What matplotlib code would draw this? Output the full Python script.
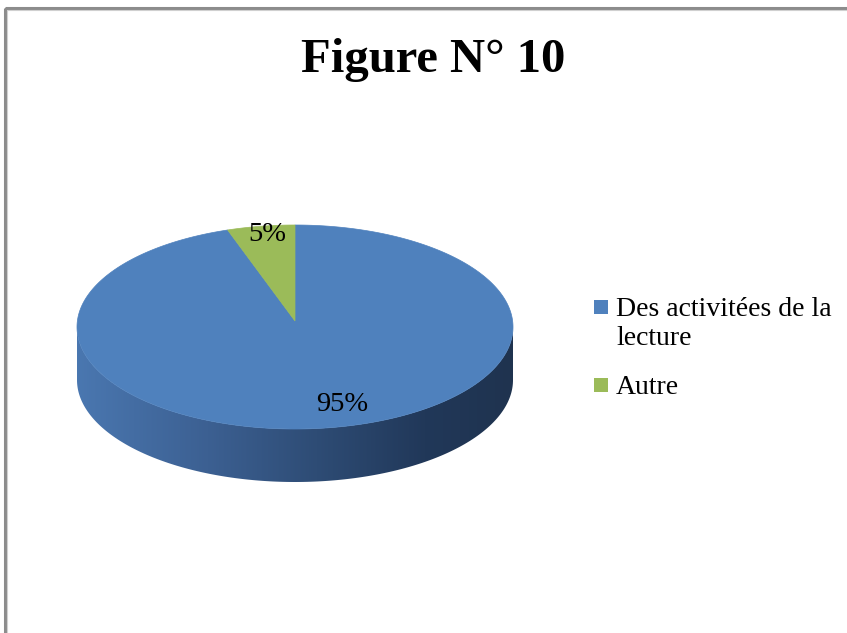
import numpy as np
import matplotlib
matplotlib.use("Agg")
import matplotlib.pyplot as plt
from matplotlib.patches import Polygon, Rectangle
from matplotlib.colors import LinearSegmentedColormap

# ---- data ----
title = "Figure N° 10"
categories = ["Des activitées de la\nlecture", "Autre"]
values = [95, 5]
pct_labels = ["95%", "5%"]
colors = ["#4f81bd", "#9bbb59"]

# ---- layout (pixel coordinates) ----
W, H = 847, 633
cx, cy, rx, ry, depth = 295, 327, 218, 102, 53
serif = ["Liberation Serif", "DejaVu Serif"]

fig = plt.figure(figsize=(W / 100, H / 100), dpi=100)
ax = fig.add_axes([0, 0, 1, 1])
ax.set_xlim(0, W)
ax.set_ylim(H, 0)
ax.axis("off")

# outer chart frame
ax.add_patch(Rectangle((5, 8), W + 20, H + 20, fill=False, ec="#8c8c8c", lw=2.2))
ax.add_patch(Rectangle((6.5, 9.5), W + 20, H + 20, fill=False, ec="#d0d0d0", lw=0.8))


def ell(t_deg, dy=0.0):
    t = np.radians(t_deg)
    return np.column_stack([cx + rx * np.cos(t), cy - ry * np.sin(t) + dy])


# side wall (front half) with horizontal gradient
t = np.linspace(180, 360, 200)
side = np.vstack([ell(t), ell(t[::-1], depth)])
side_patch = Polygon(side, closed=True, fc="none", ec="none")
ax.add_patch(side_patch)
cmap = LinearSegmentedColormap.from_list(
    "side", [(0.0, "#4a77b0"), (0.3, "#3c6092"), (0.55, "#2e4c75"),
             (0.8, "#213859"), (1.0, "#1f334f")])
grad = np.linspace(0, 1, 256)[None, :]
im = ax.imshow(grad, cmap=cmap, aspect="auto",
               extent=(cx - rx, cx + rx, cy + ry + depth + 5, cy - 5),
               interpolation="bilinear")
im.set_clip_path(side_patch)
ax.set_xlim(0, W)
ax.set_ylim(H, 0)

# top face slices: start at 12 o'clock, clockwise
total = sum(values)
start = 90.0
mids = []
for v, c in zip(values, colors):
    sweep = 360.0 * v / total
    tt = np.linspace(start, start - sweep, max(int(sweep * 2), 10))
    pts = np.vstack([[cx, cy - 6], ell(tt)])
    ax.add_patch(Polygon(pts, closed=True, fc=c, ec=c, lw=0.5))
    mids.append(start - sweep / 2)
    start -= sweep

# percentage labels
label_frac = [0.74, 0.93]
label_dx = [22, 4]
label_dy = [3, 1]
for lab, m, f, dx, dy in zip(pct_labels, mids, label_frac, label_dx, label_dy):
    x = cx + rx * f * np.cos(np.radians(m)) + dx
    y = cy - ry * f * np.sin(np.radians(m)) + dy
    ax.text(x, y, lab, ha="center", va="center", fontsize=20.5,
            family=serif, color="black")

# title
ax.text(433, 60, title, ha="center", va="center", fontsize=35,
        fontweight="bold", family=serif, color="black")

# legend
leg_y = [307, 385]
line_h = 29
for cat, c, y in zip(categories, colors, leg_y):
    ax.add_patch(Rectangle((594, y - 7), 14, 14, fc=c, ec="none"))
    for i, line in enumerate(cat.split("\n")):
        ax.text(616, y + 9 + i * line_h, line, ha="left", va="baseline",
                fontsize=20, family=serif, color="black")

fig.savefig("out.png", dpi=100)
